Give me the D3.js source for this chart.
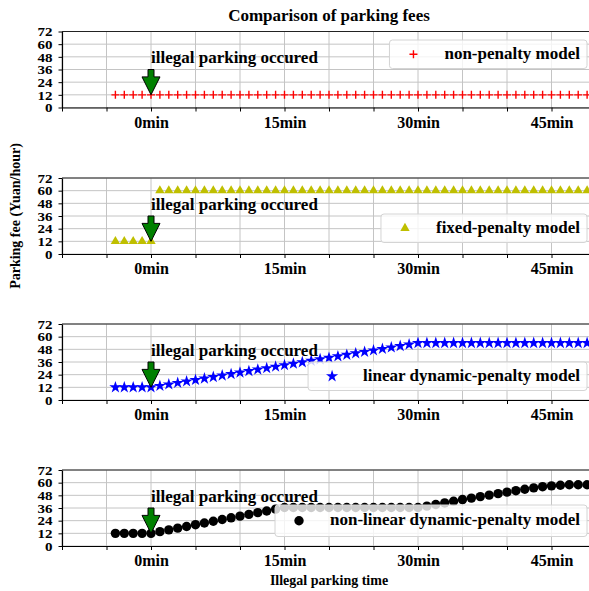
<!DOCTYPE html>
<html>
<head>
<meta charset="utf-8">
<script src="https://cdn.jsdelivr.net/npm/d3@7"></script>
<style>
  body { margin: 0; background: #fff; }
  text { font-family: "Liberation Serif", "Times New Roman", serif; font-weight: bold; fill: #000; }
</style>
</head>
<body>
<div id="chart"></div>
<script>

// data (one point per minute)
var minutes = [-4,-3,-2,-1,0,1,2,3,4,5,6,7,8,9,10,11,12,13,14,15,16,17,18,19,20,
  21,22,23,24,25,26,27,28,29,30,31,32,33,34,35,36,37,38,39,40,41,42,43,44,45,46,47,48,49,50];

var nonPenalty = [12,12,12,12,12,12,12,12,12,12,12,12,12,12,12,12,12,12,12,12,12,12,12,12,12,
  12,12,12,12,12,12,12,12,12,12,12,12,12,12,12,12,12,12,12,12,12,12,12,12,12,12,12,12,12,12];

var fixedPenalty = [12,12,12,12,12,60,60,60,60,60,60,60,60,60,60,60,60,60,60,60,60,60,60,60,60,
  60,60,60,60,60,60,60,60,60,60,60,60,60,60,60,60,60,60,60,60,60,60,60,60,60,60,60,60,60,60];

var linearPenalty = [12,12,12,12,12,13.4,14.8,16.2,17.6,19,20.4,21.8,23.2,24.6,26,27.4,28.8,30.2,31.6,33,
  34.4,35.8,37.2,38.6,40,41.4,42.8,44.2,45.6,47,48.4,49.8,51.2,52.6,54,
  54,54,54,54,54,54,54,54,54,54,54,54,54,54,54,54,54,54,54,54];

var nonLinearPenalty = [12,12,12,12,12,13.6,15.3,16.9,18.5,20.2,21.8,23.4,25.1,26.7,28.3,30,31.6,33.2,34.9,36.5,
  36.5,36.5,36.5,36.5,36.5,36.5,36.5,36.5,36.5,36.5,36.5,36.5,36.5,36.5,36.5,
  37.8,39.3,40.8,42.4,44,45.4,46.8,48.2,49.6,51,52.4,53.8,55.1,56.2,57,57.6,58,58,58,58];

var seriesNames = ["non-penalty model", "fixed-penalty model",
  "linear dynamic-penalty model", "non-linear dynamic-penalty model"];

var yTicks = [0, 12, 24, 36, 48, 60, 72];
var xTicks = [-10, -5, 0, 5, 10, 15, 20, 25, 30, 35, 40, 45, 50];
var xTickLabels = ["", "", "0min", "", "", "15min", "", "", "30min", "", "", "45min", ""];

var arrowValues = [36, 12];       // green arrow goes from 36 down to 12 at 0min
var annotationValue = 42;
var annotationText = "illegal parking occured";

var width = 589, height = 591;
var plotLeft = 62, plotRight = 596;
var panelTops = [31.5, 178, 324, 470];
var panelHeight = 76;

var panels = [
  { values: nonPenalty,       name: seriesNames[0], marker: "plus",     color: "#ff0000", legendTop: 8.5, legendH: 28.5 },
  { values: fixedPenalty,     name: seriesNames[1], marker: "triangle", color: "#bfbf00", legendTop: 36,  legendH: 28.5 },
  { values: linearPenalty,    name: seriesNames[2], marker: "star",     color: "#0000ff", legendTop: 38,  legendH: 28.5 },
  { values: nonLinearPenalty, name: seriesNames[3], marker: "circle",   color: "#000000", legendTop: 35,  legendH: 31.5 }
];

var svg = d3.select("#chart").append("svg")
    .attr("width", width)
    .attr("height", height);

var x = d3.scaleLinear().domain([-10, 50]).range([plotLeft, plotRight]);

function drawMarker(sel, type, color) {
  if (type == "plus") {
    sel.append("path").attr("d", "M-4,0H4M0,-4V4")
      .attr("stroke", color).attr("stroke-width", 1.4).attr("fill", "none");
  } else if (type == "triangle") {
    sel.append("path").attr("d", d3.symbol(d3.symbolTriangle, 38)())
      .attr("fill", color);
  } else if (type == "star") {
    sel.append("path").attr("d", d3.symbol(d3.symbolStar, 46)())
      .attr("fill", color);
  } else {
    sel.append("circle").attr("r", 4.7).attr("fill", color);
  }
}

panels.forEach(function(p, k) {
  var top = panelTops[k];
  var y = d3.scaleLinear().domain([0, 72]).range([top + panelHeight, top]);
  var g = svg.append("g");

  // grid
  g.selectAll(".hgrid").data(yTicks).enter().append("line")
      .attr("x1", plotLeft).attr("x2", plotRight)
      .attr("y1", function(d) { return y(d); }).attr("y2", function(d) { return y(d); })
      .attr("stroke", "#c4c4c4").attr("stroke-width", 1);
  g.selectAll(".vgrid").data(xTicks).enter().append("line")
      .attr("x1", function(d) { return x(d); }).attr("x2", function(d) { return x(d); })
      .attr("y1", top).attr("y2", top + panelHeight)
      .attr("stroke", "#c4c4c4").attr("stroke-width", 1);

  // clip for the points
  svg.append("clipPath").attr("id", "clip" + k)
    .append("rect").attr("x", plotLeft).attr("y", top)
    .attr("width", plotRight - plotLeft).attr("height", panelHeight);

  var pts = g.append("g").attr("clip-path", "url(#clip" + k + ")")
    .selectAll("g").data(p.values).enter().append("g")
      .attr("transform", function(d, i) { return "translate(" + x(minutes[i]) + "," + y(d) + ")"; });
  drawMarker(pts, p.marker, p.color);

  // spines + axes
  g.append("line").attr("x1", plotLeft).attr("x2", plotRight)
      .attr("y1", top).attr("y2", top).attr("stroke", "#222").attr("stroke-width", 1);

  var yAxis = g.append("g")
      .attr("transform", "translate(" + plotLeft + ",0)")
      .call(d3.axisLeft(y).tickValues(yTicks).tickSize(3.5).tickPadding(6).tickSizeOuter(0));
  // tick labels are squat in the original, so flatten them a bit
  yAxis.selectAll("text")
      .attr("font-size", 15)
      .attr("dy", "0.36em")
      .attr("transform", "scale(1,0.8)")
      .style("font-family", "Liberation Serif").style("font-weight", "bold");

  var xAxis = g.append("g")
      .attr("transform", "translate(0," + (top + panelHeight) + ")")
      .call(d3.axisBottom(x).tickValues(xTicks)
        .tickFormat(function(d, i) { return xTickLabels[i]; })
        .tickSize(4).tickPadding(5).tickSizeOuter(0));
  xAxis.selectAll("text").attr("font-size", 16).style("font-family", "Liberation Serif").style("font-weight", "bold");
  svg.selectAll(".domain").attr("stroke", "#000").attr("stroke-width", 1.2);

  // arrow + annotation
  var ax = x(0), yTop = y(arrowValues[0]), yTip = y(arrowValues[1]), yHead = y(29);
  g.append("path")
      .attr("d", "M" + (ax - 3) + "," + yTop + "L" + (ax + 3) + "," + yTop +
                 "L" + (ax + 3) + "," + yHead + "L" + (ax + 9) + "," + yHead +
                 "L" + ax + "," + yTip + "L" + (ax - 9) + "," + yHead +
                 "L" + (ax - 3) + "," + yHead + "Z")
      .attr("fill", "#008000").attr("stroke", "#000").attr("stroke-width", 1);

  g.append("text")
      .attr("x", x(0)).attr("y", y(annotationValue))
      .attr("font-size", 17)
      .text(annotationText);

  // legend
  var lg = g.append("g");
  var boxTop = top + p.legendTop, boxH = p.legendH;
  var rect = lg.append("rect");
  var lt = lg.append("text")
      .attr("x", 580).attr("y", boxTop + boxH / 2 + 4.5)
      .attr("text-anchor", "end")
      .attr("font-size", 17)
      .text(p.name);
  var tw = lt.node().getComputedTextLength();
  var boxLeft = 580 - tw - 55;
  rect.attr("x", boxLeft).attr("y", boxTop)
      .attr("width", 587 - boxLeft).attr("height", boxH)
      .attr("rx", 3)
      .attr("fill", "#fff").attr("fill-opacity", 0.8)
      .attr("stroke", "#d4d4d4").attr("stroke-width", 1);
  var lm = lg.append("g").attr("transform", "translate(" + (boxLeft + 24) + "," + (boxTop + boxH / 2) + ")");
  drawMarker(lm, p.marker, p.color);
});

// titles
svg.append("text")
    .attr("x", 329).attr("y", 21)
    .attr("text-anchor", "middle")
    .attr("font-size", 17)
    .text("Comparison of parking fees");

svg.append("text")
    .attr("x", 329).attr("y", 585)
    .attr("text-anchor", "middle")
    .attr("font-size", 14)
    .text("Illegal parking time");

svg.append("text")
    .attr("transform", "translate(20," + (panelTops[1] + panelHeight / 2) + ") rotate(-90)")
    .attr("text-anchor", "middle")
    .attr("font-size", 14)
    .text("Parking fee (Yuan/hour)");

</script>
</body>
</html>
